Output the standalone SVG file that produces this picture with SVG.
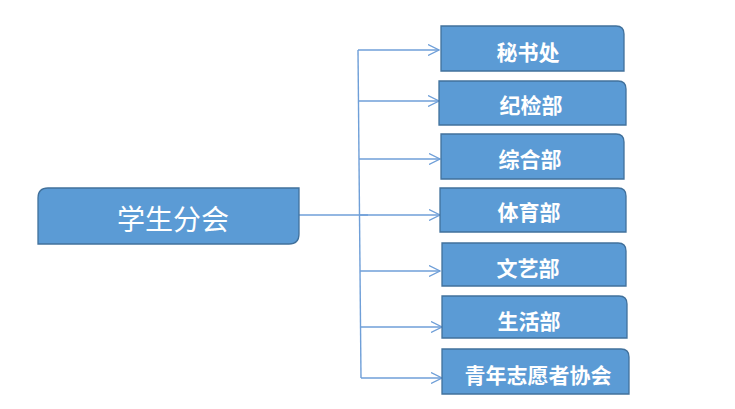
<svg xmlns="http://www.w3.org/2000/svg" width="735" height="409" viewBox="0 0 735 409">
<defs>
<style>
.box{fill:#5b9bd5;stroke:#41719c;stroke-width:1.3}
.lbl{fill:#ffffff;font-family:"Microsoft YaHei","Noto Sans CJK SC",sans-serif;font-weight:bold;font-size:21px;text-anchor:middle;dominant-baseline:central}
.main{fill:#ffffff;font-family:"Noto Sans CJK SC",sans-serif;font-size:28px;text-anchor:middle;dominant-baseline:central}
.con{stroke:#6f9fd8;stroke-width:1.4;fill:none}
</style>
<marker id="arr" viewBox="0 0 12 12" refX="11" refY="6" markerWidth="12" markerHeight="12" markerUnits="userSpaceOnUse" orient="auto">
<path d="M0,0.5 L11,6 L0,11.5" fill="none" stroke="#6f9fd8" stroke-width="1.3"/>
</marker>
</defs>
<rect width="735" height="409" fill="#ffffff"/>
<g id="connectors">
<line class="con" x1="299" y1="215" x2="368" y2="215"/>
<line class="con" x1="358" y1="50" x2="361" y2="378"/>
<line class="con" x1="358" y1="50" x2="439" y2="50" marker-end="url(#arr)"/>
<line class="con" x1="358" y1="101" x2="439" y2="101" marker-end="url(#arr)"/>
<line class="con" x1="359" y1="159" x2="440" y2="159" marker-end="url(#arr)"/>
<line class="con" x1="359" y1="215" x2="440" y2="215" marker-end="url(#arr)"/>
<line class="con" x1="360" y1="271" x2="440" y2="271" marker-end="url(#arr)"/>
<line class="con" x1="360" y1="327" x2="442" y2="327" marker-end="url(#arr)"/>
<line class="con" x1="361" y1="378" x2="442" y2="378" marker-end="url(#arr)"/>
</g>
<g id="node-main">
<path class="box" d="M48,188 H299 V234 Q299,244 289,244 H38 V198 Q38,188 48,188 Z"/>
<text class="main" x="173" y="218">学生分会</text>
</g>
<g id="node-1">
<path class="box" d="M441,26 H616 Q624,26 624,34 V71 H441 Z"/>
<text class="lbl" x="528" y="51">秘书处</text>
</g>
<g id="node-2">
<path class="box" d="M439,81 H618 Q626,81 626,89 V125 H439 Z"/>
<text class="lbl" x="531" y="104">纪检部</text>
</g>
<g id="node-3">
<path class="box" d="M441,134 H616 Q624,134 624,142 V179 H441 Z"/>
<text class="lbl" x="530" y="158">综合部</text>
</g>
<g id="node-4">
<path class="box" d="M440,188 H618 Q626,188 626,196 V232 H440 Z"/>
<text class="lbl" x="529" y="211">体育部</text>
</g>
<g id="node-5">
<path class="box" d="M442,243 H618 Q626,243 626,251 V286 H442 Z"/>
<text class="lbl" x="528" y="267">文艺部</text>
</g>
<g id="node-6">
<path class="box" d="M442,296 H619 Q627,296 627,304 V338 H442 Z"/>
<text class="lbl" x="529" y="320">生活部</text>
</g>
<g id="node-7">
<path class="box" d="M442,349 H621 Q629,349 629,357 V394 H442 Z"/>
<text class="lbl" x="538" y="374">青年志愿者协会</text>
</g>
</svg>
